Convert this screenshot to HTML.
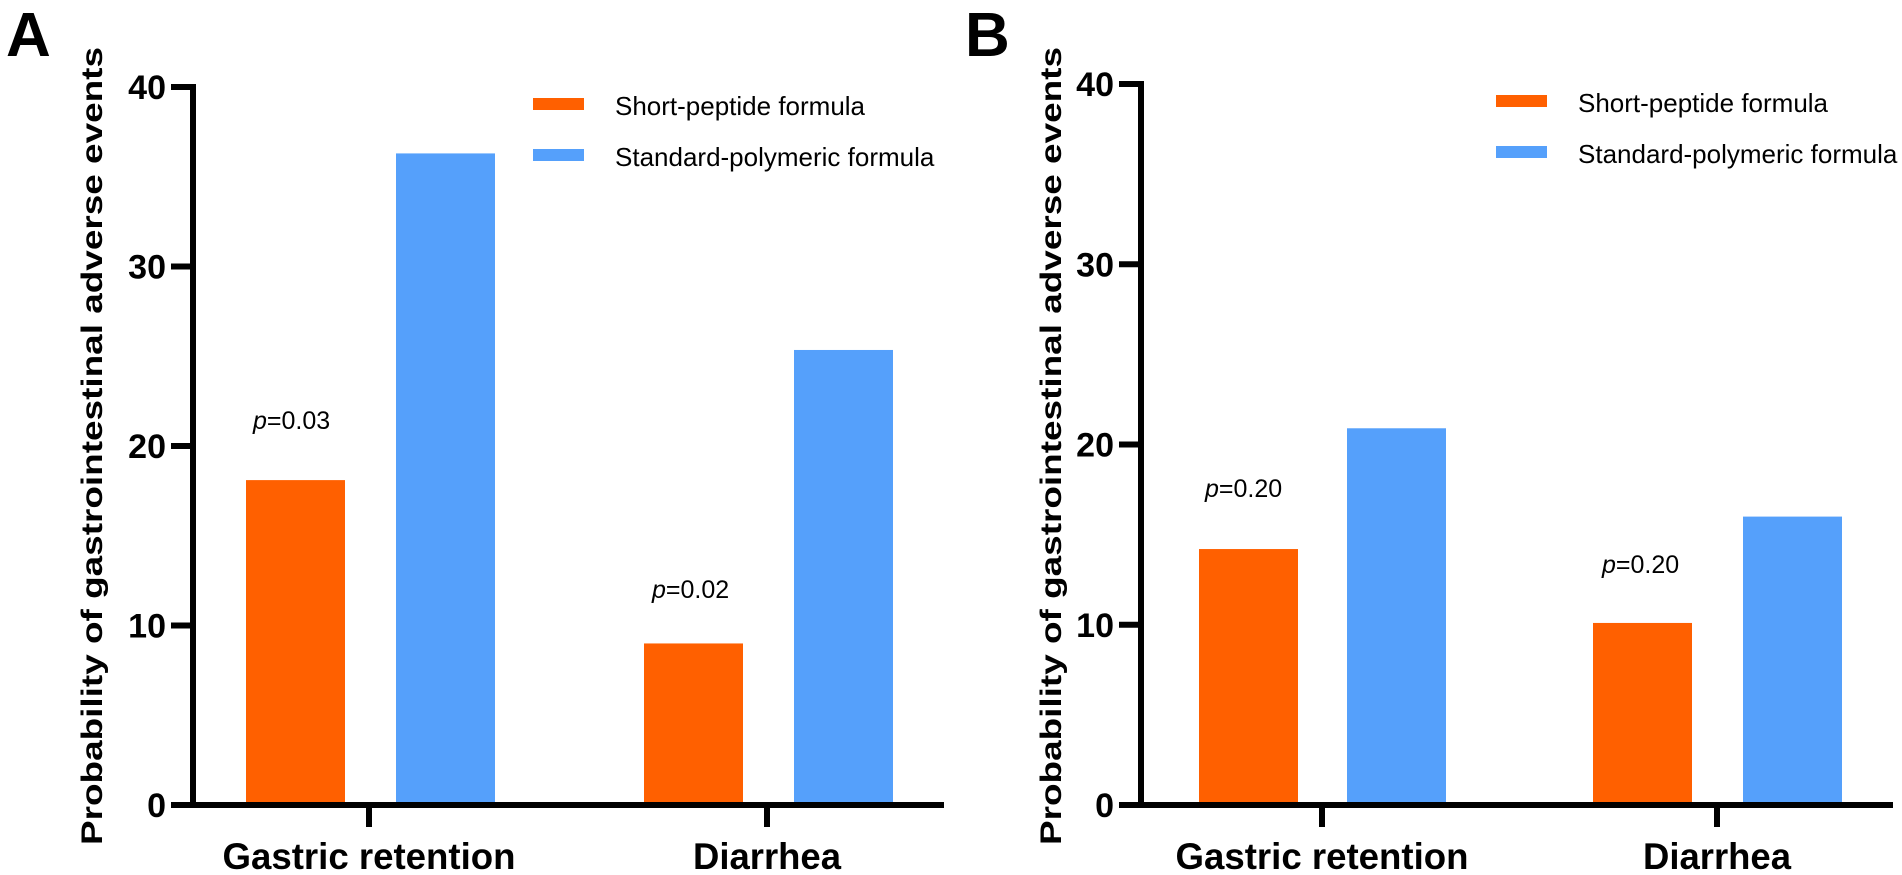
<!DOCTYPE html>
<html><head><meta charset="utf-8"><style>
html,body{margin:0;padding:0;background:#fff;}
svg{display:block;font-family:"Liberation Sans",Arial,sans-serif;}
</style></head><body>
<svg id="chart" width="1902" height="875" viewBox="0 0 1902 875"></svg>
<script>
const categories = ["Gastric retention", "Diarrhea"];
const seriesNames = ["Short-peptide formula", "Standard-polymeric formula"];
const panelA_short = [18.1, 9.0];
const panelA_standard = [36.3, 25.35];
const panelB_short = [14.2, 10.1];
const panelB_standard = [20.9, 16.0];
const pLabelsA = ["0.03", "0.02"];
const pLabelsB = ["0.20", "0.20"];
const yTicks = [0, 10, 20, 30, 40];
const colors = ["#FF6000", "#55A0FB"];

const NS = "http://www.w3.org/2000/svg";
const svg = document.getElementById("chart");
function mk(tag, attrs, parent) {
  const e = document.createElementNS(NS, tag);
  for (const k in attrs) e.setAttribute(k, attrs[k]);
  (parent || svg).appendChild(e);
  return e;
}

const catWidths = [293, 148];

const panels = [
  {id:"a", letter:"A", letterX:6, axisX:193, xEnd:944, yTop:87, y0:805, catX:[369,767],
   barX:[[246,644],[396,794]], barW:99, short:panelA_short, std:panelA_standard, p:pLabelsA,
   pPos:[[253,421],[652,590]], legX:533, legY:[104,155], titleX:91},
  {id:"b", letter:"B", letterX:965, axisX:1141, xEnd:1893, yTop:84, y0:805, catX:[1322,1717],
   barX:[[1199,1593],[1347,1743]], barW:99, short:panelB_short, std:panelB_standard, p:pLabelsB,
   pPos:[[1205,489],[1602,565]], legX:1496, legY:[101,152], titleX:1050}
];

panels.forEach(P => {
  const g = mk("g", {});
  
  
  const yScale = v => P.y0 - (P.y0 - P.yTop) * v / 40;

  const L = mk("text", {x:P.letterX, y:56, "font-size":62, "font-weight":"bold"}, g);
  L.textContent = P.letter;
  
  

  const data = [P.short, P.std];
  data.forEach((arr, s) => {
    arr.forEach((v, c) => {
      const r = mk("rect", {x:P.barX[s][c], y:yScale(v), width:P.barW, height:P.y0 - yScale(v), fill:colors[s]}, g);
      
      
    });
  });

  const ya = mk("line", {x1:P.axisX, y1:P.yTop-3, x2:P.axisX, y2:P.y0+3, stroke:"#000", "stroke-width":6}, g);
  
  
  const xa = mk("line", {x1:P.axisX-3, y1:P.y0, x2:P.xEnd, y2:P.y0, stroke:"#000", "stroke-width":6}, g);
  
  

  yTicks.forEach(t => {
    const y = yScale(t);
    const tk = mk("line", {x1:P.axisX-22, y1:y, x2:P.axisX, y2:y, stroke:"#000", "stroke-width":6}, g);
    
    
    const tl = mk("text", {x:P.axisX-27, y:y+12, "font-size":34, "font-weight":"bold", "text-anchor":"end"}, g);
    tl.textContent = t;
    
    
  });

  categories.forEach((c, i) => {
    const tk = mk("line", {x1:P.catX[i], y1:P.y0, x2:P.catX[i], y2:P.y0+22, stroke:"#000", "stroke-width":6}, g);
    
    
    const tl = mk("text", {x:P.catX[i], y:869, "font-size":37, "font-weight":"bold", "text-anchor":"middle",
      textLength:catWidths[i], lengthAdjust:"spacingAndGlyphs"}, g);
    tl.textContent = c;
    
    
  });

  const yt = mk("text", {x:0, y:0, "font-size":30, "font-weight":"bold", "text-anchor":"middle",
    transform:"translate(" + (P.titleX+11) + ",446) rotate(-90)", textLength:798, lengthAdjust:"spacingAndGlyphs"}, g);
  yt.textContent = "Probability of gastrointestinal adverse events";
  
  

  P.p.forEach((pv, i) => {
    const t = mk("text", {x:P.pPos[i][0], y:P.pPos[i][1]+8, "font-size":25}, g);
    const ts = mk("tspan", {"font-style":"italic"}, t);
    ts.textContent = "p";
    const ts2 = mk("tspan", {}, t);
    ts2.textContent = "=" + pv;
    
    
  });

  seriesNames.forEach((n, s) => {
    const sw = mk("rect", {x:P.legX, y:P.legY[s]-6, width:51, height:12, fill:colors[s]}, g);
    
    
    const lt = mk("text", {x:P.legX+82, y:P.legY[s]+11, "font-size":26}, g);
    lt.textContent = n;
    
    
  });
});
</script>
</body></html>
